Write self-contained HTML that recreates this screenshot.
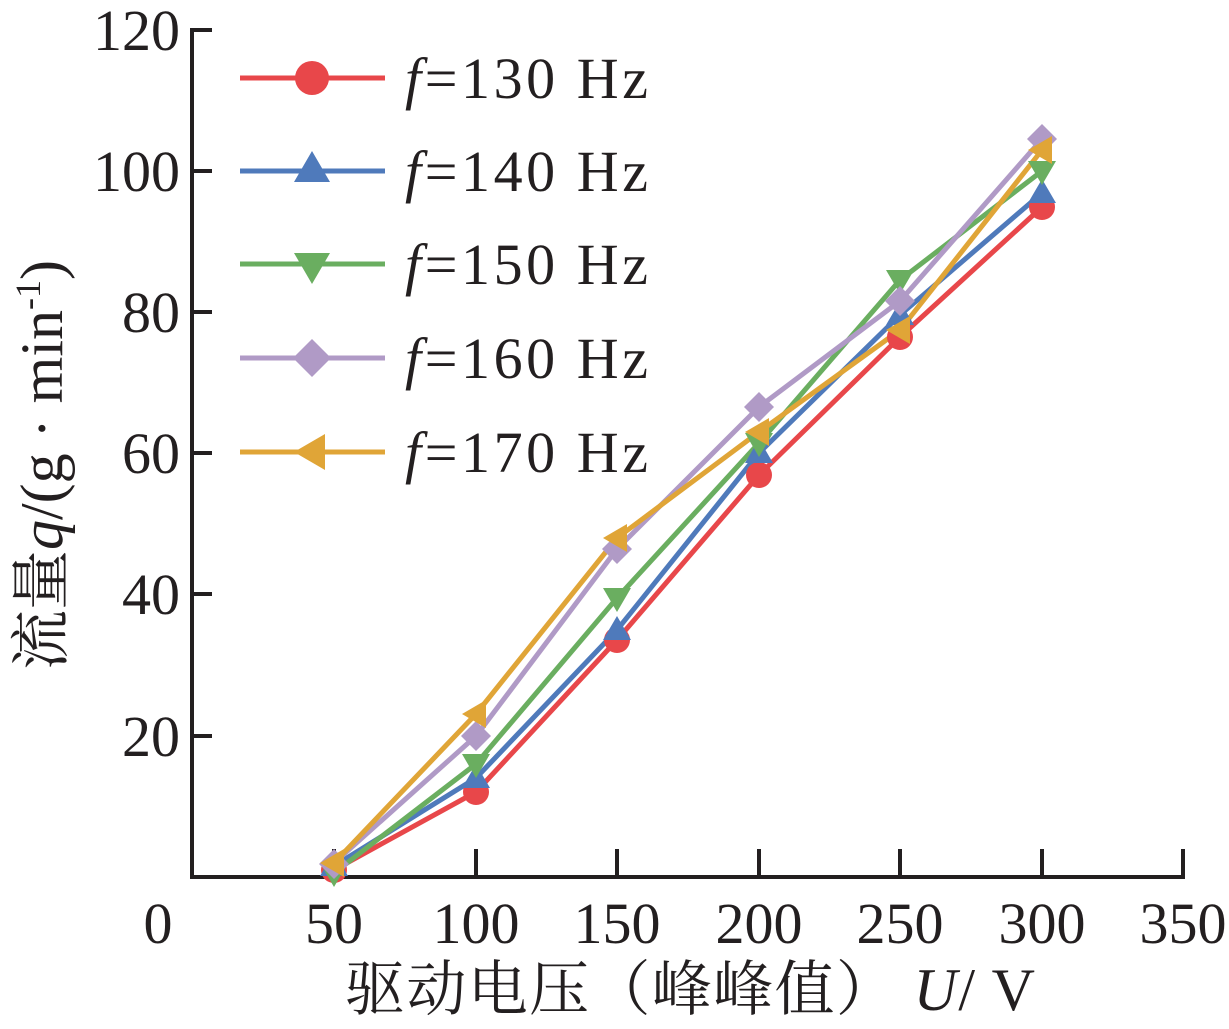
<!DOCTYPE html>
<html><head><meta charset="utf-8"><style>body{margin:0;background:#fff}</style></head><body>
<svg width="1229" height="1024" xmlns="http://www.w3.org/2000/svg" font-family="Liberation Serif, Noto Serif CJK SC, serif">
<rect width="1229" height="1024" fill="#fff"/>
<g stroke="#231f20" stroke-width="4" fill="none">
<line x1="192" y1="28" x2="192" y2="879"/>
<line x1="190" y1="877" x2="1185" y2="877"/>
<path d="M192 30h20M192 171h20M192 312h20M192 453h20M192 594h20M192 736h20"/>
<path d="M334 877v-28M476 877v-28M617 877v-28M759 877v-28M900 877v-28M1042 877v-28M1183 877v-28"/>
</g>
<g font-size="58" fill="#231f20" text-anchor="end">
<text x="180" y="50">120</text><text x="180" y="191">100</text><text x="180" y="332">80</text>
<text x="180" y="473">60</text><text x="180" y="614">40</text><text x="180" y="756">20</text>
</g>
<g font-size="58" fill="#231f20" text-anchor="middle">
<text x="158" y="943">0</text><text x="334" y="943">50</text><text x="476" y="943">100</text><text x="617" y="943">150</text>
<text x="759" y="943">200</text><text x="900" y="943">250</text><text x="1042" y="943">300</text><text x="1183" y="943">350</text>
</g>
<text x="690" y="1010" font-size="60" text-anchor="middle" fill="#231f20" textLength="690">驱动电压（峰峰值） <tspan font-style="italic">U</tspan>/ V</text>
<text transform="translate(62,465) rotate(-90)" font-size="60" text-anchor="middle" fill="#231f20">流量<tspan font-style="italic">q</tspan>/(g · min<tspan font-size="36" dy="-22">-1</tspan><tspan dy="22">)</tspan></text>
<g stroke-width="5" fill="none" stroke-linejoin="round">
<polyline stroke="#e8474a" points="334,870 476,792 617,640 759,475 900,337 1042,207"/>
<polyline stroke="#4f7abb" points="334,866 476,778 617,630 759,453 900,315 1042,193"/>
<polyline stroke="#6aae60" points="334,873 476,764 617,598 759,443 900,280 1042,171"/>
<polyline stroke="#b09ac6" points="334,863 476,736 617,549 759,407 900,301 1042,139"/>
<polyline stroke="#e0a537" points="334,863 476,714 617,538 759,432 900,330 1042,150"/>
</g>
<g fill="#e8474a"><circle cx="334" cy="870" r="13"/><circle cx="476" cy="792" r="13"/><circle cx="617" cy="640" r="13"/><circle cx="759" cy="475" r="13"/><circle cx="900" cy="337" r="13"/><circle cx="1042" cy="207" r="13"/></g>
<g fill="#4f7abb"><path d="M334 852l14 24h-28zM476 764l14 24h-28zM617 616l14 24h-28zM759 439l14 24h-28zM900 301l14 24h-28zM1042 179l14 24h-28z"/></g>
<g fill="#6aae60"><path d="M334 887l14-24h-28zM476 778l14-24h-28zM617 612l14-24h-28zM759 457l14-24h-28zM900 294l14-24h-28zM1042 185l14-24h-28z"/></g>
<g fill="#b09ac6"><path d="M334 849l15 15-15 15-15-15zM476 721l15 15-15 15-15-15zM617 534l15 15-15 15-15-15zM759 392l15 15-15 15-15-15zM900 286l15 15-15 15-15-15zM1042 124l15 15-15 15-15-15z"/></g>
<g fill="#e0a537"><path d="M320 863l24-14v28zM462 714l24-14v28zM603 538l24-14v28zM745 432l24-14v28zM886 330l24-14v28zM1028 150l24-14v28z"/></g>
<g stroke-width="5">
<line x1="240" y1="78" x2="385" y2="78" stroke="#e8474a"/><circle cx="312" cy="78" r="17" fill="#e8474a"/>
<line x1="240" y1="171" x2="385" y2="171" stroke="#4f7abb"/><path d="M312 151l18 31h-36z" fill="#4f7abb"/>
<line x1="240" y1="264" x2="385" y2="264" stroke="#6aae60"/><path d="M312 284l18-31h-36z" fill="#6aae60"/>
<line x1="240" y1="358" x2="385" y2="358" stroke="#b09ac6"/><path d="M312 339l19 19-19 19-19-19z" fill="#b09ac6"/>
<line x1="240" y1="452" x2="385" y2="452" stroke="#e0a537"/><path d="M294 452l31-18v36z" fill="#e0a537"/>
</g>
<g font-size="58" fill="#231f20">
<text x="405" y="98" textLength="243"><tspan font-style="italic">f</tspan>=130 Hz</text>
<text x="405" y="191" textLength="243"><tspan font-style="italic">f</tspan>=140 Hz</text>
<text x="405" y="284" textLength="243"><tspan font-style="italic">f</tspan>=150 Hz</text>
<text x="405" y="378" textLength="243"><tspan font-style="italic">f</tspan>=160 Hz</text>
<text x="405" y="472" textLength="243"><tspan font-style="italic">f</tspan>=170 Hz</text>
</g>
</svg>
</body></html>
